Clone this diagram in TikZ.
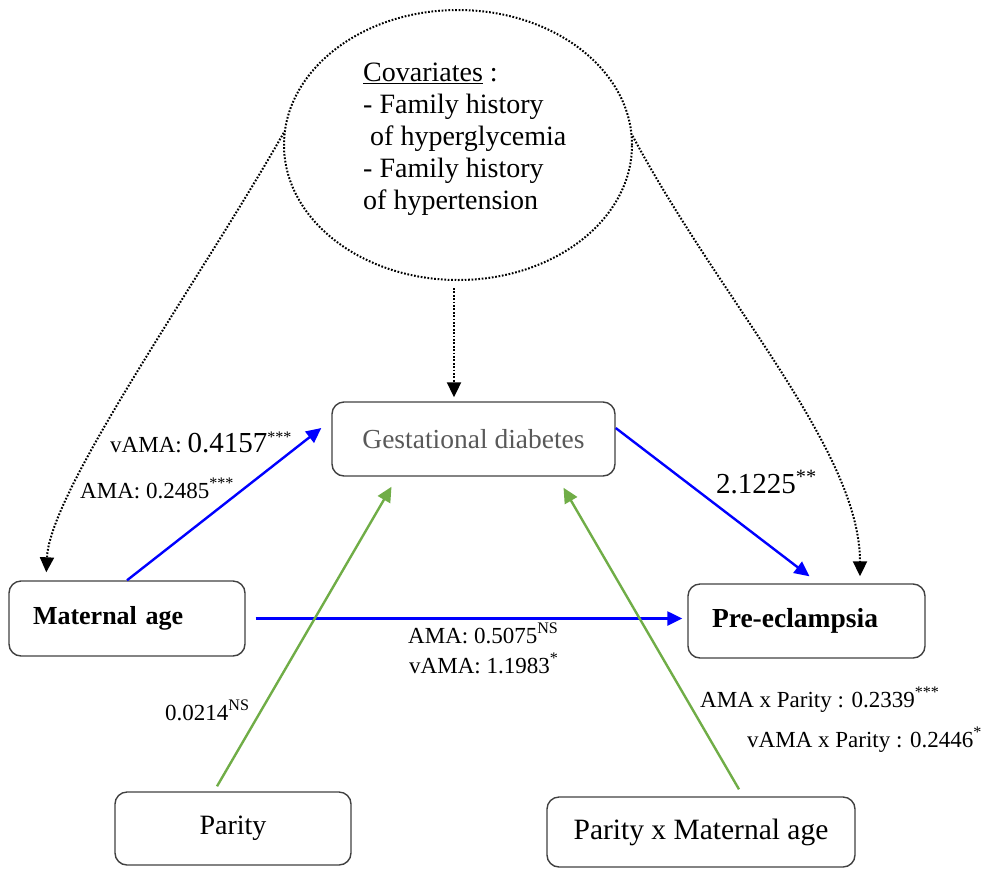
\documentclass[tikz,border=0pt]{standalone}
\usepackage{fontspec}
\setmainfont{Liberation Serif}
\usepackage{xcolor}
\usepackage{tikz}
\usetikzlibrary{shapes}
\usetikzlibrary{arrows.meta}
\usetikzlibrary{calc}
\definecolor{pathblue}{RGB}{0,0,255}
\definecolor{pathgreen}{RGB}{112,173,71}
\definecolor{boxline}{RGB}{64,64,64}
\tikzset{
  box node/.style={rectangle,rounded corners=12pt,draw=boxline,line width=1.4pt,minimum height=74pt,inner sep=0pt},
  left box/.style={box node,text width=189pt,inner xsep=24pt,align=left},
  cov node/.style={ellipse,draw,line width=2pt,dash pattern=on 1.7pt off 1.7pt,minimum width=348pt,minimum height=270pt},
  effect/.style={line width=2.4pt},
  cov path/.style={line width=2pt,dash pattern=on 1.7pt off 1.7pt},
  lab/.style={anchor=base west,inner sep=0pt,font=\fontsize{23}{27}\selectfont}
}

\begin{document}
\begin{tikzpicture}[x=1pt,y=-1pt,>={Triangle[length=15pt,width=14pt]}]
		\useasboundingbox (0,0) rectangle (982,868);
		% covariates
		\node [cov node] (cov) at (458,145) {};
		\node [anchor=north west,inner sep=0pt,align=left,font=\fontsize{28}{32}\selectfont] (covtext) at (363,63)
			{\underline{Covariates} :\\- Family history\\\hspace*{7pt}of hyperglycemia\\- Family history\\of hypertension};
		% boxes
		\node [box node,minimum width=283pt,text=black!65,font=\fontsize{27.5}{32}\selectfont] (gd) at (473.5,439) {Gestational diabetes};
		\node [left box,text width=188pt,minimum height=75pt,font=\fontsize{26}{30}\selectfont\bfseries] (ma) at (127,618.5) {Maternal age};
		\node [left box,font=\fontsize{27.5}{32}\selectfont\bfseries] (pe) at (806.5,621) {Pre-eclampsia};
		\node [box node,minimum width=236pt,minimum height=73pt,font=\fontsize{28}{32}\selectfont] (par) at (233,828.5) {Parity};
		\node [box node,minimum width=308pt,minimum height=70pt,font=\fontsize{29.5}{33}\selectfont] (parma) at (701,832) {Parity x Maternal age};
		% paths
		\draw [->,effect,pathblue] (ma.north) -- ($(gd.west)+(-10,-11)$);
		\draw [->,effect,pathblue] ($(gd.east)+(0,-11)$) -- ($(pe.north)+(3,-7)$);
		\draw [->,effect,pathblue] ($(ma.east)+(10,0)$) -- ($(ma.east -| pe.west)+(-5,0)$);
		\draw [->,effect,pathgreen] ($(par.north)+(-16,-5)$) -- ($(gd.south)+(-82,10)$);
		\draw [->,effect,pathgreen] ($(parma.north)+(38,-7)$) -- ($(gd.south)+(90,11)$);
		\draw [->,cov path] ($(cov.south)+(-4,7)$) -- ($(gd.north)+(-19.5,-4)$);
		\draw [->,cov path] (cov.176) .. controls (200,280) and (50,490) .. ($(ma.north west)+(38,-8)$);
		\draw [->,cov path] (cov.3) .. controls (720,300) and (860,450) .. ($(pe.north)+(53.5,-7)$);
		% coefficients
		\node [lab] (vama gd) at (110,452) {vAMA: {\fontsize{29}{33}\selectfont 0.4157}\textsuperscript{***}};
		\node [lab] (ama gd) at (80,498) {AMA: 0.2485\textsuperscript{***}};
		\node [lab,font=\fontsize{29}{33}\selectfont] (gd pe) at (716,493) {2.1225\textsuperscript{**}};
		\node [lab] (ama pe) at (408,643) {AMA: 0.5075\textsuperscript{NS}};
		\node [lab] (vama pe) at (409,673) {vAMA: 1.1983\textsuperscript{*}};
		\node [lab] (par gd) at (165,720) {0.0214\textsuperscript{NS}};
		\node [lab] (ama par) at (700,707) {AMA x Parity : 0.2339\textsuperscript{***}};
		\node [lab] (vama par) at (747,747) {vAMA x Parity : 0.2446\textsuperscript{*}};
\end{tikzpicture}
\end{document}
